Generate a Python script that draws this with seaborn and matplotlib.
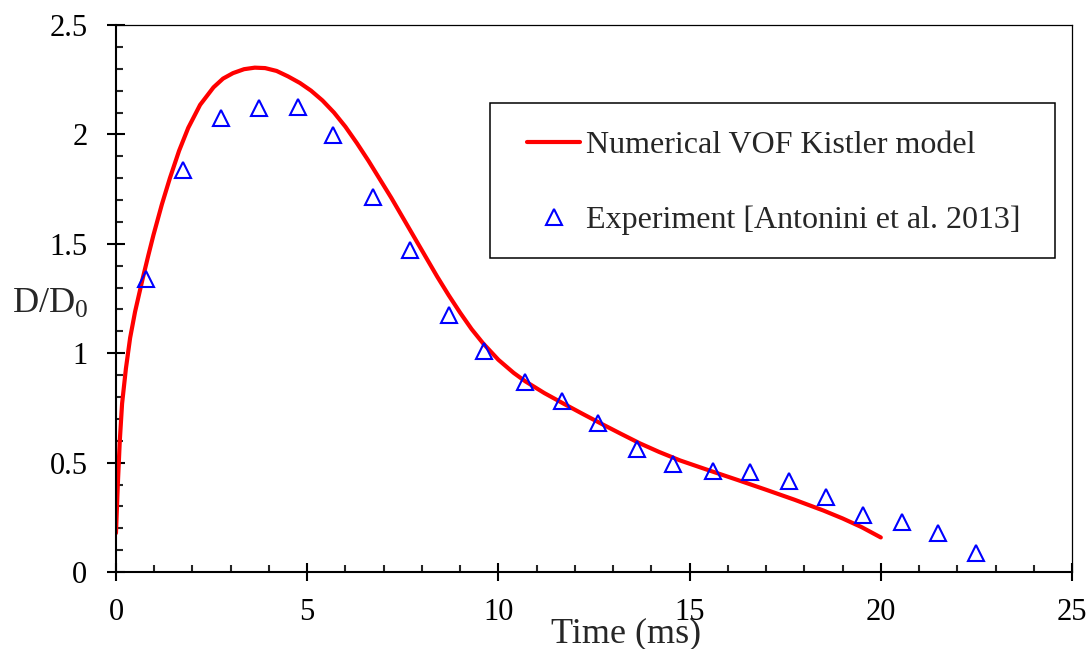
import numpy as np
import pandas as pd
import matplotlib
matplotlib.use('Agg')
import matplotlib.pyplot as plt
from matplotlib.ticker import MultipleLocator
from matplotlib.patches import Rectangle
import seaborn as sns

# Numerical VOF Kistler model curve
model_time = [0, 0.05, 0.1, 0.16, 0.26, 0.37, 0.5, 0.69, 0.85, 0.98, 1.2, 1.41,
              1.65, 1.89, 2.2, 2.55, 2.8, 3.06, 3.35, 3.63, 3.9, 4.2, 4.5, 4.81,
              5.1, 5.4, 5.7, 6.0, 6.3, 6.6, 6.9, 7.2, 7.5, 7.8, 8.1, 8.4, 8.7,
              9.0, 9.3, 9.6, 10.0, 10.4, 10.7, 11.2, 11.7, 12.2, 12.7, 13.2, 13.7,
              14.2, 14.75, 15.5, 16.25, 17.0, 17.75, 18.5, 19.0, 19.5, 20.0]
model_dd0 = [0.178, 0.407, 0.6, 0.77, 0.93, 1.07, 1.19, 1.335, 1.45, 1.54, 1.68, 1.80,
             1.925, 2.03, 2.135, 2.215, 2.255, 2.28, 2.298, 2.305, 2.303, 2.29, 2.265, 2.235,
             2.20, 2.155, 2.10, 2.035, 1.96, 1.88, 1.795, 1.71, 1.62, 1.53, 1.44, 1.35, 1.265,
             1.185, 1.11, 1.045, 0.97, 0.91, 0.872, 0.818, 0.77, 0.723, 0.677, 0.632, 0.588,
             0.549, 0.51, 0.465, 0.421, 0.376, 0.33, 0.281, 0.245, 0.205, 0.158]

# Experiment [Antonini et al. 2013]
exp_time = [0.78, 1.75, 2.75, 3.74, 4.76, 5.67, 6.72, 7.69, 8.71, 9.62, 10.70, 11.66,
            12.6, 13.62, 14.57, 15.61, 16.58, 17.6, 18.57, 19.53, 20.55, 21.5, 22.5]
exp_dd0 = [1.339, 1.837, 2.075, 2.12, 2.125, 1.997, 1.714, 1.472, 1.175, 1.010, 0.868, 0.782,
           0.681, 0.562, 0.494, 0.462, 0.457, 0.416, 0.343, 0.26, 0.228, 0.178, 0.087]

xticks = [0, 5, 10, 15, 20, 25]
yticks = [0, 0.5, 1, 1.5, 2, 2.5]
ytick_labels = ['0', '0.5', '1', '1.5', '2', '2.5']

model_df = pd.DataFrame({'time': model_time, 'dd0': model_dd0})
exp_df = pd.DataFrame({'time': exp_time, 'dd0': exp_dd0})

sns.set_style('ticks')
plt.rcParams['font.family'] = ['Liberation Serif', 'DejaVu Serif']
plt.rcParams['mathtext.fontset'] = 'custom'
plt.rcParams['mathtext.rm'] = 'Liberation Serif'

fig = plt.figure(figsize=(10.92, 6.49), dpi=100)
ax = fig.add_axes([0.1062, 0.1186, 0.8755, 0.8429])

sns.lineplot(data=model_df, x='time', y='dd0', color='#ff0000', linewidth=3,
             sort=False, ax=ax, label='Numerical VOF Kistler model')
sns.lineplot(data=exp_df, x='time', y='dd0', linestyle='', marker='^',
             markersize=12, markerfacecolor='none', markeredgecolor='#0000ff',
             markeredgewidth=1.5, color='#0000ff', ax=ax,
             label='Experiment [Antonini et al. 2013]')

ax.set_xlim(0, 25)
ax.set_ylim(0, 2.5)
ax.set_xticks(xticks)
ax.set_xticklabels([str(t) for t in xticks])
ax.set_yticks(yticks)
ax.set_yticklabels(ytick_labels)
ax.xaxis.set_minor_locator(MultipleLocator(1))
ax.yaxis.set_minor_locator(MultipleLocator(0.1))

ax.tick_params(which='major', direction='inout', length=13, width=1.5,
               labelsize=22, colors='black')
ax.tick_params(axis='x', which='major', pad=12)
ax.tick_params(axis='y', which='major', pad=14)
ax.tick_params(which='minor', direction='in', length=5, width=1.5)

for side in ['left', 'bottom']:
    ax.spines[side].set_linewidth(1.5)
    ax.spines[side].set_color('black')
for side in ['top', 'right']:
    ax.spines[side].set_visible(True)
    ax.spines[side].set_linewidth(0.9)
    ax.spines[side].set_color('black')

ax.set_xlabel('Time (ms)', fontsize=26, va='center')
ax.xaxis.set_label_coords(0.534, -0.113)
ax.set_ylabel(r'D/$\mathregular{D_0}$', fontsize=26, rotation=0, ha='center', va='center')
ax.yaxis.set_label_coords(-0.069, 0.49)

# legend entries without frame, box drawn separately to match the padding
leg = ax.legend(loc='upper left', bbox_to_anchor=(0.43, 0.806), borderaxespad=0,
                fontsize=23, frameon=False, handlelength=1.66, handletextpad=0.18,
                labelspacing=1.42, borderpad=0)
ax.add_patch(Rectangle((0.391, 0.574), 0.591, 0.283, transform=ax.transAxes,
                       fill=False, edgecolor='black', linewidth=1.1, zorder=5))

fig.savefig('out.png', dpi=100)
